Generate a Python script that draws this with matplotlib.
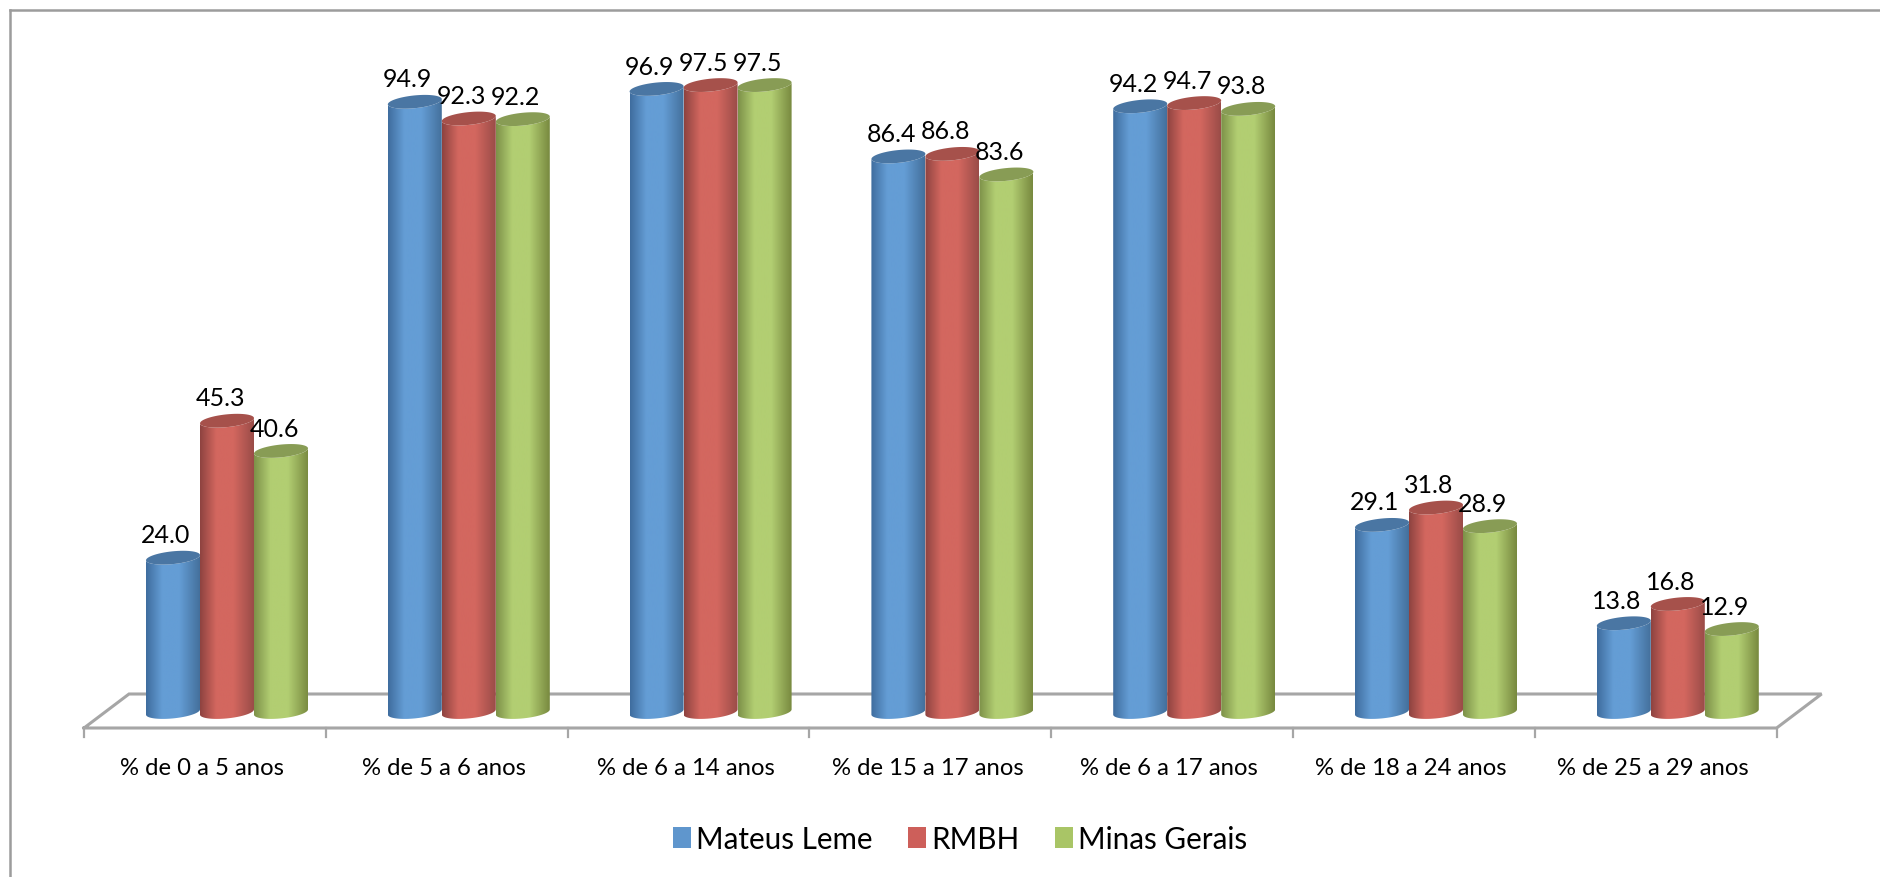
import numpy as np
import matplotlib
matplotlib.use('Agg')
import matplotlib.pyplot as plt
from matplotlib.colors import LinearSegmentedColormap
from matplotlib.lines import Line2D
from matplotlib.patches import Patch, PathPatch
from matplotlib.path import Path

plt.rcParams['font.family'] = ['Lato', 'DejaVu Sans']

categories = ['% de 0 a 5 anos', '% de 5 a 6 anos', '% de 6 a 14 anos', '% de 15 a 17 anos',
              '% de 6 a 17 anos', '% de 18 a 24 anos', '% de 25 a 29 anos']
mateus_leme = [24.0, 94.9, 96.9, 86.4, 94.2, 29.1, 13.8]
rmbh = [45.3, 92.3, 97.5, 86.8, 94.7, 31.8, 16.8]
minas_gerais = [40.6, 92.2, 97.5, 83.6, 93.8, 28.9, 12.9]
series_names = ['Mateus Leme', 'RMBH', 'Minas Gerais']

W, H = 1881, 878
# pixels per category and per percentage point, and where the first group / zero sit
X_STEP = 241.8
Y_STEP = 6.43
X0 = 227.0
Y0 = 713.0

BAR_W = 54.0 / X_STEP
ELL_B = 6.4 / Y_STEP     # half height of the cylinder caps
ELL_TILT = 2.6 / Y_STEP  # caps lean up towards the right

# edge, light, edge, cap
palette = [
    ('#3f6d9e', '#649dd5', '#44709c', '#4a76a3'),
    ('#8e4340', '#d3675f', '#9a4c48', '#a6514b'),
    ('#7d9149', '#b2ce72', '#78893f', '#889c55'),
]
swatch_colors = ['#5f96cd', '#cd5f5a', '#a9c566']


def cap_points(cx, cy, start, stop, n=60):
    t = np.linspace(start, stop, n)
    a = BAR_W / 2
    return cx + a * np.cos(t), cy + ELL_B * np.sin(t) + ELL_TILT * np.cos(t)


def draw_cylinder(ax, cx, value, colors):
    edge, light, edge2, cap = colors
    cmap = LinearSegmentedColormap.from_list(
        'cyl', [(0, edge), (0.3, light), (0.62, light), (1, edge2)])
    # side wall: bottom arc from left to right, then back over the top
    bx, by = cap_points(cx, 0, np.pi, 2 * np.pi)
    tx, ty = cap_points(cx, value, 0, -np.pi)
    verts = np.column_stack([np.r_[bx, tx], np.r_[by, ty]])
    body = PathPatch(Path(np.vstack([verts, verts[0]]), closed=True), fc='none', ec='none',
                     transform=ax.transData)
    ax.add_patch(body)
    im = ax.imshow(np.linspace(0, 1, 128).reshape(1, -1), cmap=cmap, aspect='auto',
                   extent=(cx - BAR_W / 2, cx + BAR_W / 2, -ELL_B * 2, value + ELL_B * 2),
                   interpolation='bilinear', zorder=3)
    im.set_clip_path(body)
    # top cap
    ex, ey = cap_points(cx, value, 0, 2 * np.pi)
    ax.fill(ex, ey, color=cap, lw=0, zorder=3)


fig = plt.figure(figsize=(W / 100, H / 100), dpi=100, facecolor='white')
ax = fig.add_axes([0, 0, 1, 1])
ax.set_axis_off()

# floor of the chart
floor_color = '#a6a6a6'
front = (Y0 - 729) / Y_STEP
back = (Y0 - 695) / Y_STEP
tick_low = (Y0 - 738) / Y_STEP
left = (84 - X0) / X_STEP
right = left + len(categories)
depth = 45 / X_STEP
ax.plot([left, left + depth, right + depth, right, left],
        [front, back, back, front, front], color=floor_color, lw=2.2, solid_joinstyle='miter', zorder=1)
for i in range(len(categories) + 1):
    ax.plot([left + i, left + i], [front, tick_low], color=floor_color, lw=1.6, zorder=1)

all_series = [mateus_leme, rmbh, minas_gerais]
x = np.arange(len(categories))
for s, values in enumerate(all_series):
    for i, v in enumerate(values):
        cx = x[i] + (s - 1) * BAR_W
        draw_cylinder(ax, cx, v, palette[s])
        ax.annotate(f'{v:.1f}', (cx, v), xytext=(-5, 16.5), textcoords='offset points',
                    ha='center', va='center', fontsize=18, color='black', zorder=5)

for i, name in enumerate(categories):
    ax.annotate(name, (left + i + 0.5, front), xytext=(-2, -28.5), textcoords='offset points',
                ha='center', va='center', fontsize=17.2, color='black')

handles = [Patch(color=c, lw=0) for c in swatch_colors]
ax.legend(handles, series_names, ncol=3, frameon=False, fontsize=21.3,
          loc='center', bbox_to_anchor=(960 / W, 1 - 840 / H), bbox_transform=fig.transFigure,
          handlelength=0.61, handleheight=0.71, handletextpad=0.18, columnspacing=1.2,
          borderpad=0, labelspacing=0)

# outer frame only shows on the top and left
frame = '#9c9c9c'
fig.add_artist(Line2D([10.5 / W, 1], [1 - 10.5 / H, 1 - 10.5 / H], color=frame, lw=1.8))
fig.add_artist(Line2D([10.5 / W, 10.5 / W], [0, 1 - 10.5 / H], color=frame, lw=1.8))

ax.set_xlim(-X0 / X_STEP, (W - X0) / X_STEP)
ax.set_ylim((Y0 - H) / Y_STEP, Y0 / Y_STEP)

fig.savefig('out.png', dpi=100, facecolor='white')
